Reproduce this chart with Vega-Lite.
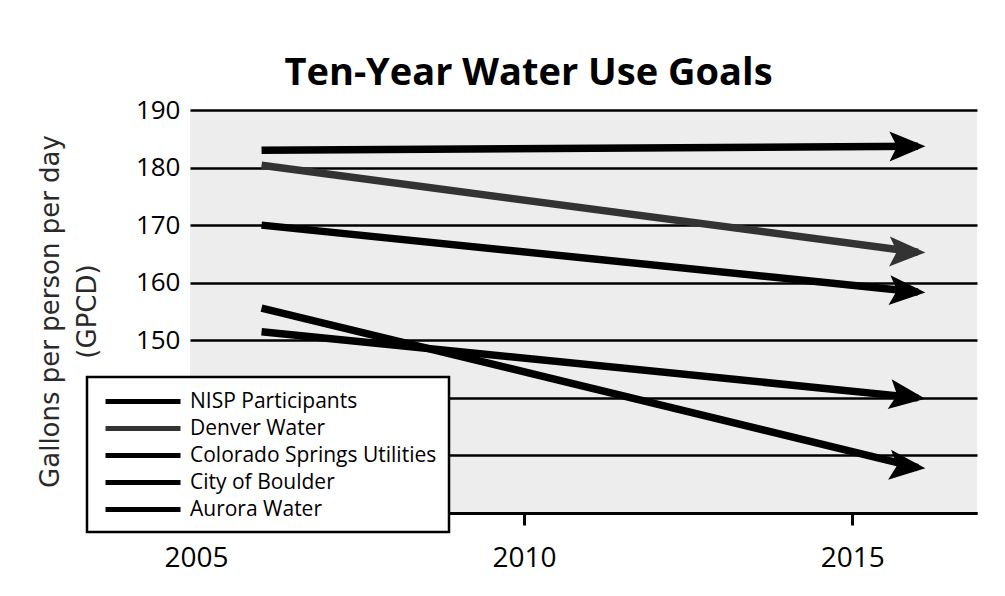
{
  "$schema": "https://vega.github.io/schema/vega-lite/v6.json",
  "width": 787,
  "height": 403,
  "autosize": {"type": "none"},
  "padding": {"left": 190, "top": 110, "right": 28, "bottom": 83},
  "background": "white",
  "title": {
    "text": "Ten-Year Water Use Goals",
    "font": "Open Sans",
    "fontSize": 38,
    "fontWeight": "bold",
    "color": "black",
    "anchor": "middle",
    "frame": "group",
    "dx": -55
  },
  "config": {
    "view": {"fill": "#ededed", "stroke": null},
    "legend": {
      "orient": "none",
      "legendX": -103,
      "legendY": 267,
      "fillColor": "white",
      "strokeColor": "black",
      "strokeWidth": 2.5,
      "padding": 12,
      "labelFont": "Open Sans",
      "labelFontSize": 21,
      "labelColor": "black",
      "labelLimit": 400,
      "labelOffset": 66,
      "symbolType": "M -0.6 0 L 6.9 0",
      "symbolSize": 400,
      "symbolStrokeWidth": 5,
      "rowPadding": 4,
      "title": null
    }
  },
  "data": {
    "values": [
      {"series": "NISP Participants", "year": 2006, "gpcd": 183.0},
      {"series": "NISP Participants", "year": 2016, "gpcd": 183.7},
      {"series": "Denver Water", "year": 2006, "gpcd": 180.4},
      {"series": "Denver Water", "year": 2016, "gpcd": 165.3},
      {"series": "Colorado Springs Utilities", "year": 2006, "gpcd": 170.0},
      {"series": "Colorado Springs Utilities", "year": 2016, "gpcd": 158.4},
      {"series": "City of Boulder", "year": 2006, "gpcd": 155.6},
      {"series": "City of Boulder", "year": 2016, "gpcd": 127.9},
      {"series": "Aurora Water", "year": 2006, "gpcd": 151.5},
      {"series": "Aurora Water", "year": 2016, "gpcd": 140.0}
    ]
  },
  "encoding": {
    "x": {
      "field": "year",
      "type": "quantitative",
      "scale": {"domain": [2004.91, 2016.9], "nice": false, "zero": false},
      "axis": {
        "title": null,
        "values": [2005, 2010, 2015],
        "format": "d",
        "grid": false,
        "domainColor": "black",
        "domainWidth": 3,
        "tickColor": "black",
        "tickWidth": 3,
        "tickSize": 12,
        "labelFont": "Open Sans",
        "labelFontSize": 28,
        "labelColor": "black",
        "labelPadding": 19
      }
    },
    "y": {
      "field": "gpcd",
      "type": "quantitative",
      "scale": {"domain": [120, 190], "nice": false, "zero": false},
      "axis": {
        "title": ["Gallons per person per day", "(GPCD)"],
        "titleFont": "DejaVu Sans",
        "titleFontSize": 26,
        "titleFontWeight": "normal",
        "titleColor": "#2a2a2a",
        "titleLineHeight": 37,
        "titleAngle": -90,
        "titleAlign": "center",
        "titleBaseline": "top",
        "titleX": -153,
        "titleY": 201,
        "values": [120, 130, 140, 150, 160, 170, 180, 190],
        "domain": false,
        "ticks": false,
        "grid": true,
        "gridColor": "black",
        "gridWidth": 2.5,
        "gridOpacity": 1,
        "labelFont": "Open Sans",
        "labelFontSize": 26,
        "labelColor": "black",
        "labelPadding": 10
      }
    }
  },
  "layer": [
    {
      "mark": {"type": "line", "strokeWidth": 7.5, "strokeCap": "butt"},
      "encoding": {
        "color": {
          "field": "series",
          "type": "nominal",
          "scale": {
            "domain": ["NISP Participants", "Denver Water", "Colorado Springs Utilities", "City of Boulder", "Aurora Water"],
            "range": ["black", "#333333", "black", "black", "black"]
          }
        },
        "detail": {"field": "series"}
      }
    },
    {
      "transform": [{"filter": "datum.year == 2016"}],
      "mark": {
        "type": "point",
        "filled": true,
        "opacity": 1,
        "size": 900,
        "shape": "M 0.5 0 L -1.9 -1 L -1.4 0 L -1.9 1 Z"
      },
      "encoding": {
        "fill": {
          "condition": {"test": "datum.series == 'Denver Water'", "value": "#333333"},
          "value": "black"
        },
        "angle": {
          "field": "series",
          "type": "nominal",
          "scale": {
            "domain": ["NISP Participants", "Denver Water", "Colorado Springs Utilities", "City of Boulder", "Aurora Water"],
            "range": [-0.35, 7.6, 5.8, 13.7, 5.8]
          },
          "legend": null
        }
      }
    }
  ]
}
